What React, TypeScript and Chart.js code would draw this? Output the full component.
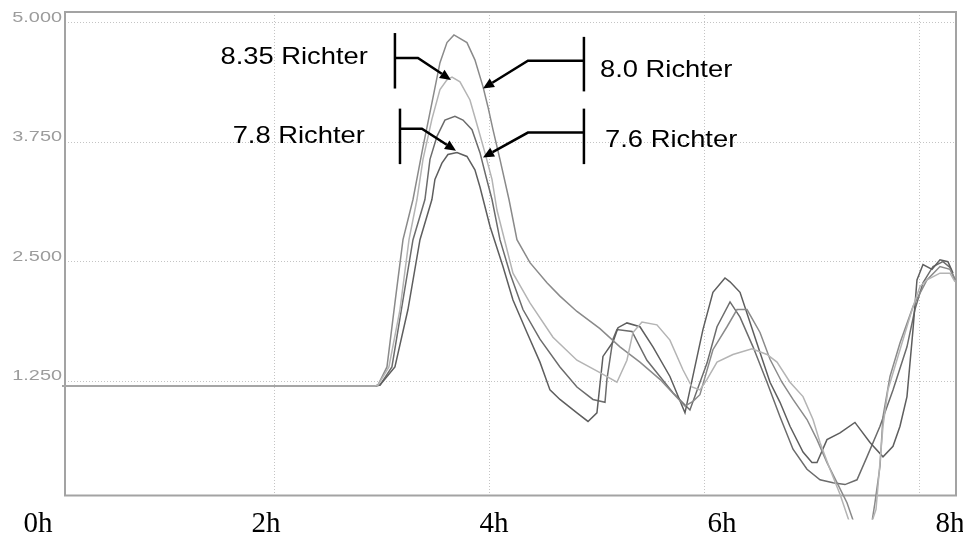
import React, { useEffect, useRef } from "react";
import { Chart, registerables } from "chart.js";

Chart.register(...registerables);

// ---------- data ----------
const hourLabels = ["0h", "2h", "4h", "6h", "8h"];
const hourLabelValues = [0, 2, 4, 6, 8];
const gridHours = [2, 4, 6, 8];
const yTickValues = [1.25, 2.5, 3.75, 5.0];

// [hour, value]
const richter835: [number, number][] = [
  [0.02, 1.2], [2.93, 1.2], [2.958, 1.21], [3.06, 1.4], [3.163, 2.0], [3.247, 2.73], [3.321, 3.15], [3.377, 3.57],
  [3.46, 3.99], [3.535, 4.3], [3.6, 4.4], [3.647, 4.43], [3.721, 4.38], [3.814, 4.19], [3.888, 3.9], [3.953, 3.64],
  [4.019, 3.36], [4.065, 3.04], [4.214, 2.38], [4.372, 2.07], [4.586, 1.71], [4.809, 1.47], [5.023, 1.34], [5.181, 1.24],
  [5.274, 1.47], [5.33, 1.76], [5.414, 1.87], [5.553, 1.84], [5.674, 1.68], [5.795, 1.37], [5.879, 1.19], [5.953, 1.16],
  [6.019, 1.27], [6.112, 1.45], [6.26, 1.53], [6.437, 1.59], [6.577, 1.53], [6.67, 1.45], [6.791, 1.24], [6.912, 1.09],
  [7.005, 0.85], [7.07, 0.61], [7.163, 0.33], [7.256, 0.07], [7.367, -0.3], [7.498, -0.4], [7.591, -0.09], [7.656, 0.78],
  [7.702, 1.16], [7.814, 1.58], [7.935, 2.03], [8.0, 2.24], [8.065, 2.31], [8.186, 2.38], [8.279, 2.38], [8.326, 2.29],
];

const richter80: [number, number][] = [
  [0.02, 1.2], [2.93, 1.2], [2.958, 1.21], [3.042, 1.4], [3.116, 2.07], [3.191, 2.73], [3.284, 3.15], [3.377, 3.7],
  [3.46, 4.16], [3.535, 4.58], [3.6, 4.79], [3.665, 4.87], [3.786, 4.79], [3.86, 4.61], [3.935, 4.33], [3.981, 4.12],
  [4.028, 3.88], [4.093, 3.57], [4.177, 3.15], [4.251, 2.73], [4.372, 2.49], [4.53, 2.28], [4.651, 2.14], [4.809, 1.98],
  [5.023, 1.8], [5.209, 1.61], [5.395, 1.45], [5.581, 1.27], [5.814, 0.99], [5.888, 1.04], [5.953, 1.11], [6.074, 1.58],
  [6.205, 1.82], [6.298, 2.0], [6.391, 2.0], [6.512, 1.76], [6.605, 1.48], [6.716, 1.24], [6.819, 1.06], [6.949, 0.85],
  [7.042, 0.64], [7.135, 0.4], [7.228, 0.19], [7.321, -0.02], [7.423, -0.35], [7.535, -0.35], [7.581, -0.02], [7.628, 0.36],
  [7.656, 0.88], [7.721, 1.3], [7.814, 1.65], [7.935, 2.03], [8.065, 2.31], [8.186, 2.45], [8.279, 2.42], [8.326, 2.31],
];

const richter78: [number, number][] = [
  [0.02, 1.2], [2.93, 1.2], [2.977, 1.21], [3.116, 1.4], [3.237, 2.0], [3.349, 2.73], [3.46, 3.15], [3.488, 3.36],
  [3.553, 3.53], [3.609, 3.62], [3.693, 3.64], [3.786, 3.6], [3.86, 3.46], [3.907, 3.28], [4.0, 2.87], [4.121, 2.45],
  [4.214, 2.1], [4.344, 1.76], [4.465, 1.45], [4.558, 1.16], [4.651, 1.06], [4.809, 0.92], [4.912, 0.83], [4.995, 0.92],
  [5.051, 1.51], [5.144, 1.66], [5.191, 1.81], [5.274, 1.86], [5.395, 1.82], [5.516, 1.61], [5.674, 1.3], [5.814, 0.92],
  [5.981, 1.79], [6.074, 2.18], [6.186, 2.33], [6.233, 2.29], [6.326, 2.18], [6.512, 1.55], [6.605, 1.24], [6.698, 1.03],
  [6.791, 0.78], [6.912, 0.51], [6.995, 0.4], [7.042, 0.4], [7.135, 0.64], [7.256, 0.71], [7.395, 0.82], [7.535, 0.61],
  [7.656, 0.46], [7.749, 0.57], [7.814, 0.78], [7.879, 1.09], [7.935, 1.79], [7.972, 2.31], [8.028, 2.47], [8.112, 2.42],
  [8.186, 2.52], [8.26, 2.5], [8.307, 2.38],
];

const richter76: [number, number][] = [
  [0.02, 1.2], [2.93, 1.2], [2.977, 1.21], [3.088, 1.4], [3.191, 2.1], [3.284, 2.73], [3.395, 3.15], [3.442, 3.57],
  [3.507, 3.81], [3.581, 3.98], [3.674, 4.02], [3.749, 3.98], [3.833, 3.88], [3.907, 3.64], [3.963, 3.39], [4.019, 3.15],
  [4.093, 2.73], [4.186, 2.38], [4.307, 2.0], [4.465, 1.69], [4.651, 1.4], [4.809, 1.19], [4.958, 1.06], [5.07, 1.03],
  [5.088, 1.27], [5.144, 1.69], [5.181, 1.79], [5.321, 1.77], [5.46, 1.47], [5.581, 1.3], [5.702, 1.13], [5.86, 0.95],
  [6.019, 1.44], [6.112, 1.82], [6.233, 2.08], [6.326, 1.92], [6.447, 1.61], [6.577, 1.24], [6.698, 0.88], [6.819, 0.54],
  [6.949, 0.33], [7.07, 0.22], [7.191, 0.19], [7.302, 0.17], [7.414, 0.22], [7.507, 0.46], [7.628, 0.78], [7.749, 1.16],
  [7.879, 1.61], [7.953, 2.0], [8.028, 2.28], [8.121, 2.45], [8.214, 2.5], [8.279, 2.44], [8.326, 2.31],
];

const seriesNames = ["8.35 Richter", "8.0 Richter", "7.8 Richter", "7.6 Richter"];
const seriesData = [richter835, richter80, richter78, richter76];
const seriesColors = ["#b4b4b4", "#8a8a8a", "#5e5e5e", "#6c6c6c"];

// annotation callouts, in data units (hours, value)
type Callout = {
  text: string;
  side: "left" | "right";
  barX: number;
  barTop: number;
  barBottom: number;
  elbow: [number, number];
  tip: [number, number];
  label: [number, number];
};
const callouts: Callout[] = [
  { text: "8.35 Richter", side: "left", barX: 3.116, barTop: 4.89, barBottom: 4.31, elbow: [3.33, 4.63], tip: [3.637, 4.4], label: [2.865, 4.64] },
  { text: "8.0 Richter", side: "right", barX: 4.874, barTop: 4.85, barBottom: 4.28, elbow: [4.353, 4.6], tip: [3.935, 4.31], label: [5.023, 4.5] },
  { text: "7.8 Richter", side: "left", barX: 3.163, barTop: 4.1, barBottom: 3.52, elbow: [3.367, 3.89], tip: [3.684, 3.66], label: [2.837, 3.81] },
  { text: "7.6 Richter", side: "right", barX: 4.874, barTop: 4.1, barBottom: 3.52, elbow: [4.353, 3.85], tip: [3.935, 3.59], label: [5.07, 3.77] },
];

function stretchedText(ctx: CanvasRenderingContext2D, text: string, x: number, y: number, sx: number) {
  ctx.save();
  ctx.translate(x, y);
  ctx.scale(sx, 1);
  ctx.fillText(text, 0, 0);
  ctx.restore();
}

// ---------- plugin ----------
const overlayPlugin = {
  id: "overlay",
  beforeDatasetsDraw(chart: any) {
    const { ctx, chartArea: a } = chart;
    ctx.save();
    ctx.strokeStyle = "#a3a3a3";
    ctx.lineWidth = 2;
    ctx.strokeRect(a.left, a.top, a.right - a.left, a.bottom - a.top);
    // y tick labels (horizontally stretched like the source)
    const ys = chart.scales.y;
    ctx.font = '14px "Liberation Sans"';
    ctx.fillStyle = "#9c9c9c";
    ctx.textAlign = "right";
    ctx.textBaseline = "alphabetic";
    yTickValues.forEach((v) => {
      stretchedText(ctx, v.toFixed(3), a.left - 3, ys.getPixelForValue(v) - 1, 1.42);
    });
    ctx.restore();
  },
  afterDraw(chart: any) {
    const { ctx, chartArea: a } = chart;
    const xs = chart.scales.x;
    const ys = chart.scales.y;
    const xh = chart.scales.xh;
    ctx.save();
    // hour labels
    ctx.font = '29px "Liberation Serif"';
    ctx.fillStyle = "#000";
    ctx.textAlign = "center";
    ctx.textBaseline = "alphabetic";
    hourLabels.forEach((l, i) => {
      ctx.fillText(l, xh.getPixelForValue(hourLabelValues[i]), a.bottom + 36.5);
    });
    // callouts
    ctx.strokeStyle = "#000";
    ctx.fillStyle = "#000";
    ctx.lineWidth = 2.5;
    ctx.lineCap = "butt";
    callouts.forEach((c) => {
      const bx = xs.getPixelForValue(c.barX);
      ctx.beginPath();
      ctx.moveTo(bx, ys.getPixelForValue(c.barTop));
      ctx.lineTo(bx, ys.getPixelForValue(c.barBottom));
      ctx.stroke();
      const ex = xs.getPixelForValue(c.elbow[0]);
      const ey = ys.getPixelForValue(c.elbow[1]);
      const tx = xs.getPixelForValue(c.tip[0]);
      const ty = ys.getPixelForValue(c.tip[1]);
      const ang = Math.atan2(ty - ey, tx - ex);
      const headLen = 11;
      const hx = tx - Math.cos(ang) * headLen;
      const hy = ty - Math.sin(ang) * headLen;
      ctx.beginPath();
      ctx.moveTo(bx, ey);
      ctx.lineTo(ex, ey);
      ctx.lineTo(hx, hy);
      ctx.stroke();
      ctx.beginPath();
      ctx.moveTo(tx, ty);
      ctx.lineTo(hx + Math.cos(ang + Math.PI / 2) * 5, hy + Math.sin(ang + Math.PI / 2) * 5);
      ctx.lineTo(hx - Math.cos(ang + Math.PI / 2) * 5, hy - Math.sin(ang + Math.PI / 2) * 5);
      ctx.closePath();
      ctx.fill();
      ctx.font = '24px "Liberation Sans"';
      ctx.textBaseline = "middle";
      ctx.textAlign = c.side === "left" ? "right" : "left";
      stretchedText(ctx, c.text, xs.getPixelForValue(c.label[0]), ys.getPixelForValue(c.label[1]), 1.14);
    });
    ctx.restore();
  },
};

export default function App() {
  const ref = useRef<HTMLCanvasElement | null>(null);
  useEffect(() => {
    document.body.style.margin = "0";
    if (!ref.current) return;
    const chart = new Chart(ref.current, {
      type: "line",
      data: {
        datasets: seriesData.map((d, i) => ({
          label: seriesNames[i],
          data: d.map(([x, y]) => ({ x, y })),
          borderColor: seriesColors[i],
          borderWidth: 1.5,
          pointRadius: 0,
          tension: 0,
          fill: false,
          clip: { left: 10, top: 5, right: 10, bottom: 24 } as any,
        })),
      },
      options: {
        animation: false,
        responsive: false,
        events: [],
        layout: { padding: { top: 12, right: 7, left: 0, bottom: 0 } },
        plugins: { legend: { display: false }, tooltip: { enabled: false }, title: { display: false } },
        scales: {
          x: {
            type: "linear",
            min: 0.047,
            max: 8.335,
            afterBuildTicks: (s: any) => {
              s.ticks = gridHours.map((v) => ({ value: v }));
            },
            afterFit: (s: any) => {
              s.height = 43.5;
            },
            ticks: { display: false },
            border: { display: false, dash: [1, 2] },
            grid: { color: "#c4c4c4", lineWidth: 1, drawTicks: false },
          },
          xh: {
            type: "linear",
            display: false,
            min: (65 - 38) / 114,
            max: (956 - 38) / 114,
          },
          y: {
            type: "linear",
            min: 0.056,
            max: 5.11,
            afterBuildTicks: (s: any) => {
              s.ticks = yTickValues.map((v) => ({ value: v }));
            },
            afterFit: (s: any) => {
              s.width = 65;
            },
            border: { display: false, dash: [1, 2] },
            grid: { color: "#c4c4c4", lineWidth: 1, drawTicks: false },
            ticks: { display: false },
          },
        },
      } as any,
      plugins: [overlayPlugin],
    });
    return () => chart.destroy();
  }, []);
  return (
    <div style={{ width: 963, height: 539 }}>
      <canvas ref={ref} width={963} height={539} style={{ display: "block" }} />
    </div>
  );
}
